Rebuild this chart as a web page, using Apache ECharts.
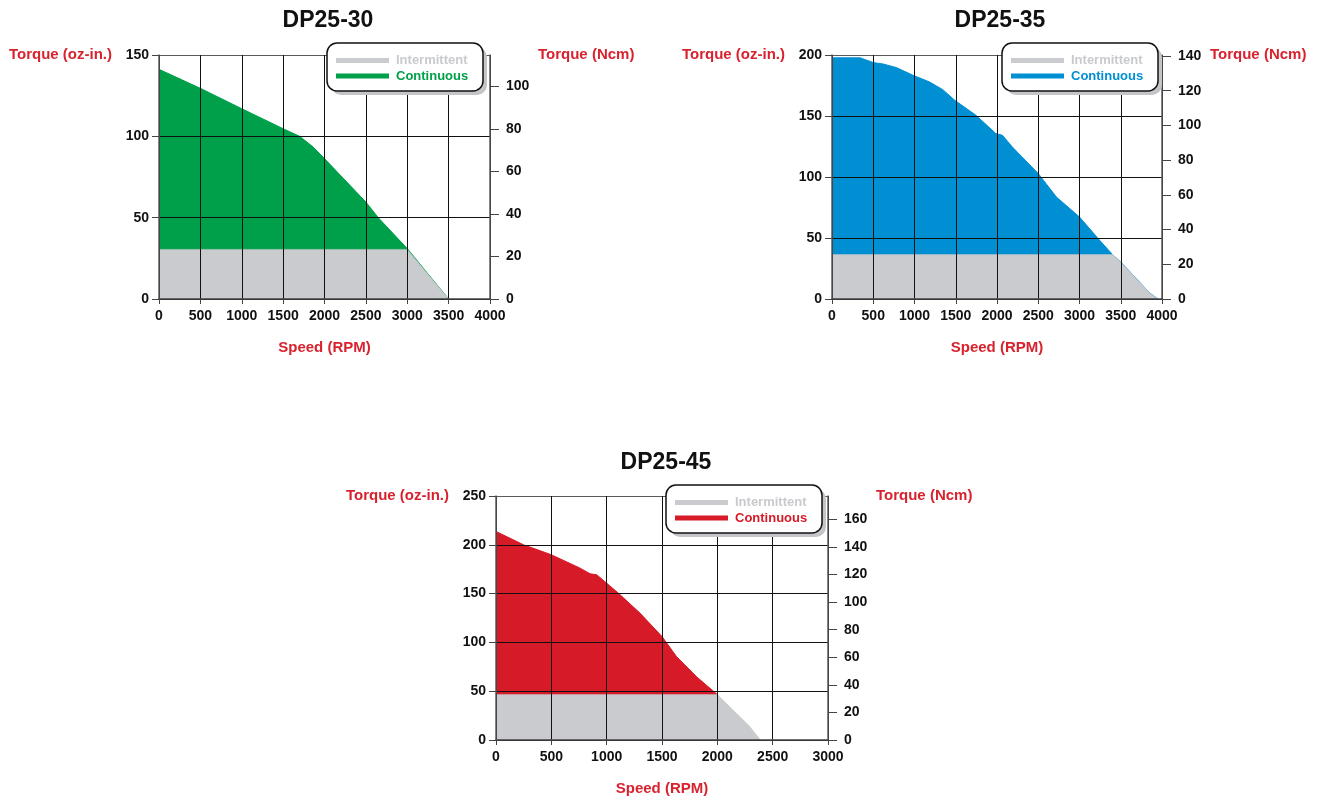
<!DOCTYPE html>
<html><head><meta charset="utf-8">
<script src="https://cdn.jsdelivr.net/npm/echarts@6/dist/echarts.min.js"></script>
<style>html,body{margin:0;padding:0;background:#fff}#c{width:1320px;height:800px}</style>
</head><body><div id="c"></div>
<script>
const chartTitles = ['DP25-30', 'DP25-35', 'DP25-45'];
const legendNames = ['Intermittent', 'Continuous'];
const xTitle = 'Speed (RPM)';
const yLeftTitle = 'Torque (oz-in.)';
const yRightTitle = 'Torque (Ncm)';

// DP25-30
const dp30ContSpeed  = [0, 500, 1000, 1500, 1700, 1864, 2000, 2500, 2650, 3000, 3500];
const dp30ContTorque = [141.2, 129.5, 117, 104.7, 100, 93.4, 86.3, 59.6, 50, 31, 0];
const dp30IntSpeed   = [0, 3000, 3500];
const dp30IntTorque  = [30.5, 30.5, 0];
// DP25-35
const dp35ContSpeed  = [0, 340, 500, 620, 780, 982, 1183, 1343, 1488, 1745, 1986, 2066, 2186, 2500, 2720, 3000, 3220, 3400, 3500, 3630, 3820, 3850, 3950];
const dp35ContTorque = [197.7, 197.7, 193.8, 192.6, 189.7, 183.4, 177.9, 171.6, 162.9, 150.6, 135.6, 134.2, 124.6, 102.8, 83.6, 67.2, 50, 36.4, 30.3, 21, 7.1, 5, 0];
const dp35IntSpeed   = [0, 3400, 3500, 3630, 3820, 3850, 3950];
const dp35IntTorque  = [36.4, 36.4, 30.3, 21, 7.1, 5, 0];
// DP25-45
const dp45ContSpeed  = [0, 249, 500, 760, 850, 910, 1000, 1105, 1301, 1500, 1632, 1812, 2000];
const dp45ContTorque = [213.7, 200, 189.8, 176.1, 170.3, 169.3, 160.7, 150.5, 130, 106, 85.4, 64.9, 46.5];
const dp45IntSpeed   = [0, 2000, 2290, 2390];
const dp45IntTorque  = [46.5, 46.5, 14.4, 0];

// axis ticks
const speedMax = [4000, 4000, 3000];
const speedStep = 500;
const ozMax = [150, 200, 250];
const ozStep = 50;
const ncmMax = [114.8, 140.6, 177];
const ncmTicks = [
  [0, 20, 40, 60, 80, 100],
  [0, 20, 40, 60, 80, 100, 120, 140],
  [0, 20, 40, 60, 80, 100, 120, 140, 160]
];

const contColors = ['#00a04b', '#008fd3', '#d71a28'];
const grayColor = '#c9cbce';
const nameRed = '#d8232f';
const FONT = '"Liberation Sans", Arial, Helvetica, sans-serif';

const grids = [
  {left: 159, top: 55, width: 331, height: 244},
  {left: 832, top: 55, width: 330, height: 244},
  {left: 496, top: 496, width: 332, height: 244}
];
const titlePos = [{x: 328, y: 9}, {x: 1000, y: 9}, {x: 666, y: 451}];
const legendBox = [{x: 327, y: 43}, {x: 1002, y: 43}, {x: 666, y: 485}];
const legendBoxW = 156, legendBoxH = 48;

const contData = [[dp30ContSpeed, dp30ContTorque], [dp35ContSpeed, dp35ContTorque], [dp45ContSpeed, dp45ContTorque]];
const intData = [[dp30IntSpeed, dp30IntTorque], [dp35IntSpeed, dp35IntTorque], [dp45IntSpeed, dp45IntTorque]];
const zip = (a, b) => a.map((v, i) => [v, b[i]]);

const option = {
  animation: false,
  backgroundColor: '#fff',
  title: [], legend: [], grid: [], xAxis: [], yAxis: [], series: [], graphic: []
};

const labelStyle = {fontSize: 14, fontWeight: 'bold', color: '#111', fontFamily: FONT, formatter: v => String(v)};
const nameStyleBase = {fontSize: 15, fontWeight: 'bold', color: nameRed, fontFamily: FONT};

for (let i = 0; i < 3; i++) {
  option.grid.push(Object.assign({containLabel: false}, grids[i]));
  option.title.push({
    text: chartTitles[i], left: titlePos[i].x, top: titlePos[i].y, textAlign: 'center', padding: 0,
    textStyle: {fontSize: 23, fontWeight: 'bold', color: '#111', fontFamily: FONT}
  });
  const nSplit = ozMax[i] / ozStep + 1;
  const splitColors = [];
  for (let k = 0; k < nSplit; k++) splitColors.push(k === nSplit - 1 ? '#5a5a5a' : '#111');
  option.xAxis.push({
    type: 'value', gridIndex: i, min: 0, max: speedMax[i], interval: speedStep, z: 5,
    axisLine: {show: true, onZero: false, lineStyle: {color: '#444', width: 1.5}},
    axisTick: {show: true, length: 5, lineStyle: {color: '#444', width: 1}},
    axisLabel: Object.assign({margin: 10}, labelStyle),
    splitLine: {show: true, lineStyle: {color: '#111', width: 1}},
    name: xTitle, nameLocation: 'middle', nameGap: 41,
    nameTextStyle: nameStyleBase
  });
  option.yAxis.push({
    type: 'value', gridIndex: i, position: 'left', min: 0, max: ozMax[i], interval: ozStep, z: 5,
    axisLine: {show: true, onZero: false, lineStyle: {color: '#5a5a5a', width: 1.5}},
    axisTick: {show: true, length: 7, lineStyle: {color: '#444', width: 1}},
    axisLabel: Object.assign({margin: 10}, labelStyle),
    splitLine: {show: true, lineStyle: {color: splitColors, width: 1}},
    name: yLeftTitle, nameLocation: 'end', nameGap: 0,
    nameTextStyle: Object.assign({align: 'right', verticalAlign: 'middle', padding: [0, 47, 0, 0]}, nameStyleBase)
  });
  option.yAxis.push({
    type: 'value', gridIndex: i, position: 'right', min: 0, max: ncmMax[i], interval: 20, z: 5,
    axisLine: {show: true, onZero: false, lineStyle: {color: '#5a5a5a', width: 1.5}},
    axisTick: {show: true, length: 9, customValues: ncmTicks[i], lineStyle: {color: '#444', width: 1}},
    axisLabel: Object.assign({margin: 16, customValues: ncmTicks[i]}, labelStyle),
    splitLine: {show: false},
    name: yRightTitle, nameLocation: 'end', nameGap: 0,
    nameTextStyle: Object.assign({align: 'left', verticalAlign: 'middle', padding: [0, 0, 0, 48]}, nameStyleBase)
  });
  const cName = legendNames[1] + '|' + i;
  const iName = legendNames[0] + '|' + i;
  option.series.push({
    type: 'line', name: cName, xAxisIndex: i, yAxisIndex: 2 * i, silent: true,
    data: zip(contData[i][0], contData[i][1]), showSymbol: false, symbol: 'none',
    color: contColors[i], itemStyle: {color: contColors[i]},
    lineStyle: {width: 1, color: contColors[i]},
    areaStyle: {color: contColors[i], opacity: 1}, z: 2
  });
  option.series.push({
    type: 'line', name: iName, xAxisIndex: i, yAxisIndex: 2 * i, silent: true,
    data: zip(intData[i][0], intData[i][1]), showSymbol: false, symbol: 'none',
    color: grayColor, itemStyle: {color: grayColor},
    lineStyle: {width: 0.5, color: grayColor},
    areaStyle: {color: grayColor, opacity: 1}, z: 3
  });
  // legend frame: shadow + rounded white box
  option.graphic.push({
    type: 'rect', z: 8, silent: true,
    shape: {x: legendBox[i].x + 4, y: legendBox[i].y + 4, width: legendBoxW, height: legendBoxH, r: 10},
    style: {fill: '#c3c5c8'}
  });
  option.graphic.push({
    type: 'rect', z: 9, silent: true,
    shape: {x: legendBox[i].x, y: legendBox[i].y, width: legendBoxW, height: legendBoxH, r: 10},
    style: {fill: '#fff', stroke: '#111', lineWidth: 1.5}
  });
  option.legend.push({
    left: legendBox[i].x, top: legendBox[i].y, orient: 'vertical', z: 10,
    padding: [11, 10, 8, 9], itemGap: 2.5, itemWidth: 53, itemHeight: 5, icon: 'rect',
    backgroundColor: 'transparent', borderWidth: 0,
    selectedMode: false,
    formatter: n => n.split('|')[0],
    textStyle: {fontSize: 13, fontWeight: 'bold', fontFamily: FONT, padding: [0, 0, 0, 2]},
    data: [
      {name: iName, itemStyle: {color: grayColor}, textStyle: {color: '#c8cacd'}},
      {name: cName, itemStyle: {color: contColors[i]}, textStyle: {color: contColors[i]}}
    ]
  });
}

const chart = echarts.init(document.getElementById('c'), null, {renderer: 'canvas'});
chart.setOption(option);
</script></body></html>
